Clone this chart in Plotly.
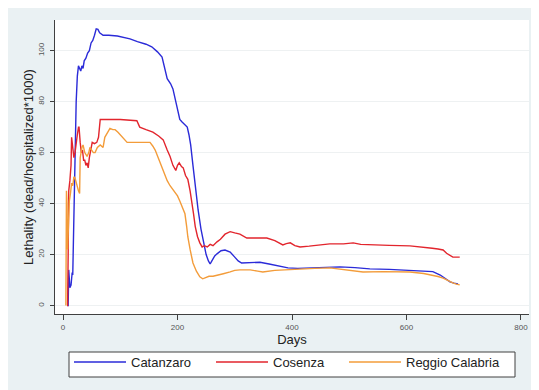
import plotly.graph_objects as go

# ---- data ----
cat_days = [8, 9, 10, 12, 14, 16, 17, 19, 21, 23, 25, 27, 29, 31, 33, 35, 37, 40, 43, 46, 49, 52, 55, 58, 61, 64, 70, 80, 95, 110, 117, 130, 145, 155, 165, 173, 178, 182, 188, 192, 198, 204, 208, 212, 217, 220, 223, 227, 231, 236, 241, 246, 250, 254, 257, 260, 265, 269, 276, 283, 292, 300, 306, 312, 325, 344, 360, 367, 380, 393, 410, 437, 460, 484, 510, 536, 570, 606, 630, 646, 659, 668, 676, 683, 690]
cat_vals = [0, 0, 14, 7, 8, 13, 12, 35, 60, 80, 90, 94, 93, 92, 94, 93, 96, 97, 99, 100, 103, 104, 106, 108.5, 108.3, 107, 106, 106, 105.7, 105, 104.6, 103.5, 102.5, 101.5, 99.5, 97.5, 93, 89, 87, 85, 79, 73, 72, 71, 70, 67, 63, 55, 46, 37.5, 30, 24.6, 20, 17.5, 16.3, 17.5, 19.5, 20.3, 21.5, 21.8, 21, 19, 17.5, 16.7, 16.8, 17, 16.3, 16, 15.5, 14.8, 14.6, 14.8, 15, 15.2, 14.9, 14.4, 14.2, 13.7, 13.5, 13.3, 12, 10.5, 9.3, 8.8, 8.5]

cos_days = [7, 8, 9, 10, 12, 14, 15, 17, 19, 21, 23, 25, 27, 28, 30, 32, 34, 36, 38, 40, 42, 44, 46, 48, 51, 55, 59, 62, 65, 80, 100, 129, 134, 145, 157, 167, 175, 182, 187, 192, 197, 200, 203, 207, 210, 214, 218, 222, 225, 228, 231, 235, 239, 243, 247, 252, 257, 262, 269, 275, 283, 292, 300, 309, 321, 340, 356, 370, 384, 390, 397, 405, 414, 430, 450, 466, 490, 507, 520, 536, 570, 606, 629, 645, 655, 664, 670, 676, 681, 693]
cos_vals = [0, 0, 20, 45, 49, 55, 66, 62, 58, 60, 65, 67, 70, 70, 64, 60, 61, 57, 57, 55, 56, 54, 58, 61, 64, 63.5, 64, 66, 73, 73, 73, 72.5, 70, 69, 68, 66.5, 65, 61, 58.5, 55, 53, 55, 56, 54.5, 54, 51, 49.5, 45, 41, 36, 31, 27, 24.6, 23, 23.5, 23, 24, 23.5, 25, 26, 28, 29, 28.5, 28, 26.5, 26.5, 26.5, 25.5, 23.8, 24.3, 24.6, 23.5, 23, 23.3, 23.8, 24.2, 24.2, 24.6, 24, 23.8, 23.6, 23.4, 23, 22.5, 22.2, 21.8, 20.5, 19.5, 19, 19]

reg_days = [5, 6, 7, 8, 9, 11, 13, 15, 17, 19, 21, 23, 25, 27, 29, 30, 33, 35, 38, 42, 45, 47, 50, 53, 56, 60, 65, 70, 73, 78, 82, 87, 91, 96, 100, 105, 112, 125, 140, 152, 157, 161, 168, 175, 182, 187, 192, 196, 200, 204, 209, 213, 216, 218, 222, 227, 233, 239, 244, 248, 255, 262, 269, 280, 292, 300, 309, 327, 340, 349, 370, 409, 440, 466, 490, 524, 560, 606, 630, 646, 655, 664, 672, 681, 687, 693]
reg_vals = [0, 45, 40, 22, 30, 41, 44, 48, 47, 50.5, 50, 48, 46.6, 45, 44, 58, 62, 63, 60, 58.5, 60, 62, 61, 60, 60, 62, 63, 62, 66, 68, 69.5, 69, 69, 68, 67, 66, 64, 64, 64, 64, 62.5, 61, 57, 53, 49, 47, 45.5, 44, 43, 41, 38.5, 36, 31, 27, 22, 16.7, 13.5, 11.3, 10.5, 10.9, 11.5, 11.5, 12, 12.5, 13.2, 13.8, 14, 14, 13.5, 13.2, 13.8, 14.4, 14.6, 14.8, 14.2, 13.2, 13.3, 13.2, 12.6, 12, 11.4, 10.8, 9.8, 8.9, 8.4, 8.1]

names = ["Catanzaro", "Cosenza", "Reggio Calabria"]
colors = ["#2b2bd8", "#e2252d", "#f39c3a"]
x_ticks = [0, 200, 400, 600, 800]
y_ticks = [0, 20, 40, 60, 80, 100]

FONT = "Liberation Sans, Arial, sans-serif"
BG = "#eaf1f3"

# plot area in figure pixels: width 474, height 294
PW, PH = 474.0, 294.0
legend_ids = ["legend", "legend2", "legend3"]
legend_x_px = [14, 156, 289]   # left edge of each legend entry, relative to the plot's left edge

fig = go.Figure()
for d, v, n, c, lg in zip([cat_days, cos_days, reg_days], [cat_vals, cos_vals, reg_vals],
                          names, colors, legend_ids):
    fig.add_trace(go.Scatter(x=d, y=v, mode="lines", name=n, legend=lg,
                             line=dict(color=c, width=1.4)))

legend_common = dict(orientation="h", xanchor="left", y=-33/PH, yanchor="top",
                     bgcolor="rgba(0,0,0,0)", borderwidth=0,
                     font=dict(size=13, color="#222222", family=FONT),
                     itemwidth=52)

fig.update_layout(
    width=531, height=382,
    margin=dict(l=47, r=10, t=12, b=76, autoexpand=False),
    paper_bgcolor=BG,
    plot_bgcolor="white",
    font=dict(family=FONT, color="#222222"),
    showlegend=True,
    legend=dict(x=legend_x_px[0]/PW, **legend_common),
    legend2=dict(x=legend_x_px[1]/PW, **legend_common),
    legend3=dict(x=legend_x_px[2]/PW, **legend_common),
    shapes=[dict(type="rect", xref="paper", yref="paper", layer="above",
                 x0=14/PW, x1=460/PW, y0=-63/PH, y1=-38/PH,
                 fillcolor="white", line=dict(color="#404040", width=1))],
)

fig.update_xaxes(
    range=[-14, 814], tickvals=x_ticks, ticktext=[str(t) for t in x_ticks],
    showgrid=False, zeroline=False, automargin=False,
    showline=True, linecolor="#404040", linewidth=1,
    ticks="outside", ticklen=5, tickcolor="#404040", tickwidth=1,
    tickfont=dict(size=8, color="#555555"),
    title=dict(text="Days", font=dict(size=13, color="#222222"), standoff=0),
)
fig.update_yaxes(
    range=[-3.3, 112], tickvals=y_ticks, ticktext=[str(t) for t in y_ticks],
    showgrid=True, gridcolor="#eef1f2", gridwidth=1, zeroline=False, automargin=False,
    showline=True, linecolor="#404040", linewidth=1,
    ticks="outside", ticklen=4, tickcolor="#404040", tickwidth=1,
    tickangle=-90, ticklabelstandoff=3,
    tickfont=dict(size=8, color="#555555"),
    title=dict(text="Lethality (dead/hospitalized*1000)", font=dict(size=13, color="#222222"), standoff=0),
)

fig.write_html("out.html")
